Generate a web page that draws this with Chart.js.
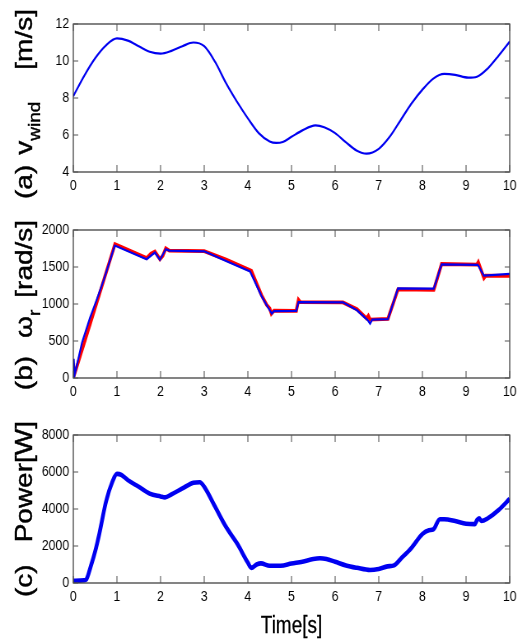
<!DOCTYPE html>
<html>
<head>
<meta charset="utf-8">
<script src="https://cdn.jsdelivr.net/npm/chart.js@4.4.1/dist/chart.umd.min.js"></script>
<style>
  html, body { margin: 0; padding: 0; background: #fff; overflow: hidden; }
  #page { position: absolute; left: 0; top: 0; width: 640px; height: 639px;
          transform: scaleX(0.8234); transform-origin: 0 0; }
  #page canvas { position: absolute; left: 0; top: 0; }
  .ytitle { position: absolute; width: 240px; height: 34px; line-height: 34px;
            font-family: "Liberation Sans", Arial, sans-serif; font-size: 28px; color: #000;
            text-align: center; white-space: nowrap; transform: rotate(-90deg);
            -webkit-text-stroke: 0.5px #000; }
  .ytitle sub { font-size: 19px; vertical-align: -9px; line-height: 0; }
  .ytitle .gap { display: inline-block; }
  #xtitle { position: absolute; left: 254px; width: 200px; top: 612px; height: 26px; line-height: 26px;
            font-family: "Liberation Sans", Arial, sans-serif; font-size: 23px; color: #000; text-align: center;
            -webkit-text-stroke: 0.3px #000; }
</style>
</head>
<body>
<div id="page">
  <canvas id="cWind" width="640" height="639"></canvas>
  <canvas id="cSpeed" width="640" height="639"></canvas>
  <canvas id="cPower" width="640" height="639"></canvas>
  <div class="ytitle" style="left:-90px; top:87px;">(a)<span class="gap" style="width:10px"></span>v<sub>wind</sub><span class="gap" style="width:32px"></span>[m/s]</div>
  <div class="ytitle" style="left:-90px; top:288px;">(b)<span class="gap" style="width:18px"></span>ω<sub>r</sub><span class="gap" style="width:12px"></span>[rad/s]</div>
  <div class="ytitle" style="left:-90px; top:492px;">(c)<span class="gap" style="width:22px"></span>Power[W]</div>
  <div id="xtitle">Time[s]</div>
</div>
<script>
// ---- tick labels ----
const xTicks = [0, 1, 2, 3, 4, 5, 6, 7, 8, 9, 10];
const windTicks = [4, 6, 8, 10, 12];
const speedTicks = [0, 500, 1000, 1500, 2000];
const powerTicks = [0, 2000, 4000, 6000, 8000];

// ---- (a) wind speed [m/s] ----
const windTime = [0, 0.25, 0.5, 0.75, 1.0, 1.25, 1.5, 1.75, 2.0, 2.25, 2.5, 2.75, 3.0, 3.25, 3.5, 3.75,
                  4.0, 4.25, 4.5, 4.65, 4.8, 5.0, 5.25, 5.55, 5.75, 6.0, 6.25, 6.5, 6.72, 7.0, 7.25,
                  7.5, 7.75, 8.0, 8.25, 8.5, 8.75, 9.05, 9.25, 9.5, 9.75, 10];
const windSpeed = [8.1, 9.2, 10.15, 10.85, 11.22, 11.1, 10.8, 10.5, 10.4, 10.55, 10.8, 11.0, 10.8, 9.95, 8.8, 7.8,
                   6.9, 6.1, 5.65, 5.57, 5.62, 5.9, 6.25, 6.52, 6.42, 6.1, 5.6, 5.15, 4.99, 5.25, 5.9,
                   6.8, 7.7, 8.45, 9.05, 9.3, 9.25, 9.1, 9.15, 9.6, 10.3, 11.05];

// ---- (b) rotor speed [rad/s] ----
const speedTimeB = [0, 0.01, 0.03, 0.2, 0.38, 0.55, 0.7, 0.95, 1.68, 1.87, 1.985, 2.12, 2.2, 3.0, 3.5, 4.05,
                    4.31, 4.45, 4.55, 4.6, 5.11, 5.16, 6.18, 6.5, 6.75, 6.8, 6.85, 7.21, 7.44, 8.26, 8.44,
                    9.27, 9.41, 10];
const speedBlue = [0, 260, 40, 480, 810, 1080, 1330, 1790, 1605, 1695, 1598, 1740, 1722, 1712, 1580, 1440,
                   1110, 965, 870, 905, 908, 1025, 1022, 915, 780, 735, 790, 795, 1212, 1208, 1535,
                   1530, 1385, 1408];
const speedTimeR = [0, 0.955, 1.68, 1.78, 1.87, 1.985, 2.05, 2.12, 2.2, 3.0, 3.5, 4.08, 4.31, 4.43, 4.5, 4.54,
                    4.6, 5.11, 5.16, 5.2, 6.18, 6.5, 6.72, 6.76, 6.8, 7.21, 7.44, 8.26, 8.44, 9.25, 9.28,
                    9.41, 9.45, 10];
const speedRed = [0, 1810, 1620, 1680, 1708, 1605, 1650, 1753, 1722, 1715, 1600, 1450, 1123, 988, 940, 870,
                  910, 908, 1055, 1025, 1022, 930, 805, 840, 790, 800, 1198, 1190, 1540, 1532, 1565,
                  1350, 1382, 1380];

// ---- (c) power [W] ----
const powerTime = [0, 0.25, 0.3, 0.4, 0.5, 0.6, 0.75, 0.9, 1.0, 1.1, 1.25, 1.5, 1.75, 2.0, 2.1, 2.25, 2.5,
                   2.75, 2.9, 3.0, 3.25, 3.5, 3.75, 4.0, 4.08, 4.2, 4.3, 4.5, 4.75, 5.0, 5.25, 5.5, 5.65,
                   5.8, 6.0, 6.25, 6.5, 6.8, 7.0, 7.2, 7.35, 7.5, 7.75, 8.0, 8.15, 8.25, 8.4, 8.5, 8.75,
                   9.0, 9.2, 9.25, 9.3, 9.35, 9.5, 9.75, 10];
const powerW = [120, 150, 200, 900, 1700, 2700, 4400, 5500, 5900, 5850, 5560, 5200, 4830, 4680, 4630, 4790, 5110,
                5420, 5450, 5200, 4120, 3030, 2150, 1100, 820, 1000, 1060, 930, 930, 1050, 1150, 1300, 1340,
                1300, 1150, 950, 820, 700, 760, 900, 950, 1300, 1900, 2650, 2850, 2900, 3450, 3450, 3350,
                3200, 3180, 3400, 3500, 3350, 3500, 3950, 4550];

const pts = (xs, ys) => xs.map((x, i) => ({ x, y: ys[i] }));

const PLOT_LEFT = 89;
const PLOT_RIGHT = 619;
const XAXIS_H = 30;
const FONT = { family: '"Liberation Sans", Arial, sans-serif', size: 15 };

// box around the axes with inward tick marks on all four sides
const framePlugin = {
  id: 'frame',
  afterDraw(chart) {
    const { ctx, chartArea: a, scales: { x, y } } = chart;
    ctx.save();
    ctx.strokeStyle = '#333';
    ctx.lineWidth = 1.2;
    ctx.strokeRect(a.left, a.top, a.right - a.left, a.bottom - a.top);
    ctx.lineWidth = 1.1;
    ctx.strokeStyle = '#555';
    ctx.beginPath();
    x.ticks.forEach(t => {
      const px = x.getPixelForValue(t.value);
      ctx.moveTo(px, a.bottom); ctx.lineTo(px, a.bottom - 7);
      ctx.moveTo(px, a.top); ctx.lineTo(px, a.top + 7);
    });
    y.ticks.forEach(t => {
      const py = y.getPixelForValue(t.value);
      ctx.moveTo(a.left, py); ctx.lineTo(a.left + 6, py);
      ctx.moveTo(a.right, py); ctx.lineTo(a.right - 6, py);
    });
    ctx.stroke();
    ctx.restore();
  }
};

function panel(id, datasets, yTicks, top, bottom) {
  return new Chart(document.getElementById(id), {
    type: 'line',
    data: { datasets },
    options: {
      responsive: false,
      animation: false,
      devicePixelRatio: 1,
      layout: { padding: { left: 0, right: 640 - PLOT_RIGHT, top: top, bottom: 639 - bottom - XAXIS_H } },
      plugins: { legend: { display: false }, tooltip: { enabled: false } },
      elements: { point: { radius: 0 } },
      scales: {
        x: {
          type: 'linear', min: xTicks[0], max: xTicks[xTicks.length - 1],
          grid: { display: false, drawTicks: false }, border: { display: false },
          ticks: { padding: 5, color: '#000', font: FONT, maxRotation: 0, autoSkip: false,
                   callback: v => String(v) },
          afterBuildTicks: s => { s.ticks = xTicks.map(v => ({ value: v })); },
          afterFit: s => { s.height = XAXIS_H; s.paddingLeft = 0; s.paddingRight = 0; }
        },
        y: {
          type: 'linear', min: yTicks[0], max: yTicks[yTicks.length - 1],
          grid: { display: false, drawTicks: false }, border: { display: false },
          ticks: { padding: 5, color: '#000', font: FONT, autoSkip: false,
                   callback: v => String(v) },
          afterBuildTicks: s => { s.ticks = yTicks.map(v => ({ value: v })); },
          afterFit: s => { s.width = PLOT_LEFT; s.paddingTop = 0; s.paddingBottom = 0; }
        }
      }
    },
    plugins: [framePlugin]
  });
}

panel('cWind', [
  { data: pts(windTime, windSpeed), borderColor: '#0000f0', borderWidth: 2.2, cubicInterpolationMode: 'monotone' }
], windTicks, 24, 172);

panel('cSpeed', [
  { data: pts(speedTimeB, speedBlue), borderColor: '#0000f0', borderWidth: 2.2, tension: 0 },
  { data: pts(speedTimeR, speedRed), borderColor: '#ff0000', borderWidth: 3.8, tension: 0 }
], speedTicks, 230, 378);

panel('cPower', [
  { data: pts(powerTime, powerW), borderColor: '#0000f0', borderWidth: 4.6, cubicInterpolationMode: 'monotone' }
], powerTicks, 435, 583);
</script>
</body>
</html>
